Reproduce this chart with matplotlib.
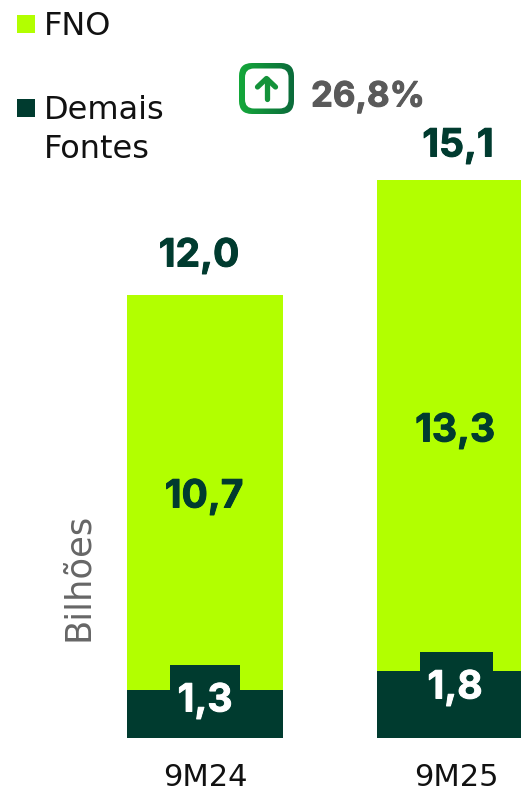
import numpy as np
import matplotlib
matplotlib.use('Agg')
import matplotlib.pyplot as plt
import matplotlib.patheffects as pe
from matplotlib.colors import LinearSegmentedColormap
from matplotlib.patches import FancyBboxPatch, Rectangle

periods = ['9M24', '9M25']
fno = [10.7, 13.3]
demais = [1.3, 1.8]
totals = [12.0, 15.1]
growth = '26,8%'

LIME = '#B2FF00'
DARK = '#003B2F'
GRAY = '#5A5A5A'
INK = '#111111'

W, H = 521, 793
plt.rcParams['font.family'] = ['DejaVu Sans']

fig = plt.figure(figsize=(W / 100, H / 100), dpi=100)

# bars, full-figure axes so that the second bar runs off the right edge
ax = fig.add_axes([0, 0, 1, 1])
ax.set_xlim(-205 / 250.5, 316 / 250.5)
ax.set_ylim(-55.5 / 36.9, 737.5 / 36.9)
ax.axis('off')

x = np.arange(len(periods))
ax.bar(x, demais, width=0.623, color=DARK)
ax.bar(x, fno, width=0.623, bottom=demais, color=LIME)

# overlay in pixels for legend, icon and labels
ov = fig.add_axes([0, 0, 1, 1])
ov.set_xlim(0, W)
ov.set_ylim(H, 0)
ov.axis('off')
ov.patch.set_alpha(0)

# small tabs behind the dark labels
ov.add_patch(Rectangle((170, 665), 70, 26, color=DARK, lw=0))
ov.add_patch(Rectangle((420, 652), 73, 20, color=DARK, lw=0))


def fmt(v):
    return f'{v:.1f}'.replace('.', ',')


def bold(cx, cy, s, color, size=28, ha='center'):
    t = ov.text(cx, cy, s, color=color, fontsize=size, fontweight='bold', family='Inter',
                ha=ha, va='center_baseline')
    # the original face is heavier than Inter Bold
    t.set_path_effects([pe.withStroke(linewidth=0.7, foreground=color)])


for v, cx, cy in zip(totals, [199, 458], [252, 142]):
    bold(cx, cy, fmt(v), DARK)
for v, cx, cy in zip(fno, [204, 455], [493, 427]):
    bold(cx, cy, fmt(v), DARK)
for v, cx, cy in zip(demais, [205, 455], [697, 684]):
    bold(cx, cy, fmt(v), 'white')

# baseline kept high enough that the descent box stays inside the figure
for p, cx in zip(periods, [205, 456]):
    ov.text(cx, 786.5, p, color=INK, fontsize=22, ha='center', va='baseline')

ov.text(78, 577, 'Bilhões', color='#666666', fontsize=25.5, rotation=90,
        ha='center', va='center')

# legend
ov.add_patch(Rectangle((17, 15), 18, 18, color=LIME, lw=0))
ov.add_patch(Rectangle((17, 99), 18, 18, color=DARK, lw=0))
ov.text(44, 23, 'FNO', color=INK, fontsize=23, va='center_baseline')
ov.text(44, 107, 'Demais', color=INK, fontsize=23, va='center_baseline')
ov.text(44, 146, 'Fontes', color=INK, fontsize=23, va='center_baseline')

# up arrow icon with gradient ring
cmap = LinearSegmentedColormap.from_list('ring', ['#14A83A', '#0B6B3B'])
grad = np.linspace(0, 1, 64).reshape(1, -1)
im = ov.imshow(grad, extent=(239, 294, 114, 63), cmap=cmap, aspect='auto', zorder=3)
outer = FancyBboxPatch((239 + 13, 63 + 13), 55 - 26, 51 - 26, boxstyle='round,pad=13,rounding_size=13',
                       fc='none', ec='none', transform=ov.transData)
ov.add_patch(outer)
im.set_clip_path(outer)
ov.add_patch(FancyBboxPatch((245 + 9, 68.5 + 9), 43.5 - 18, 40 - 18, boxstyle='round,pad=9,rounding_size=9',
                            fc='white', ec='none', zorder=4))
ov.plot([266.5, 266.5], [78.5, 98.5], color='#14923A', lw=3.8, solid_capstyle='round', zorder=5)
ov.plot([257.5, 266.5, 275.5], [87, 78.5, 87], color='#14923A', lw=3.8, solid_capstyle='round',
        solid_joinstyle='round', zorder=5)
ov.set_xlim(0, W)
ov.set_ylim(H, 0)

bold(311, 94, growth, GRAY, size=25, ha='left')

fig.savefig('out.png', dpi=100)
